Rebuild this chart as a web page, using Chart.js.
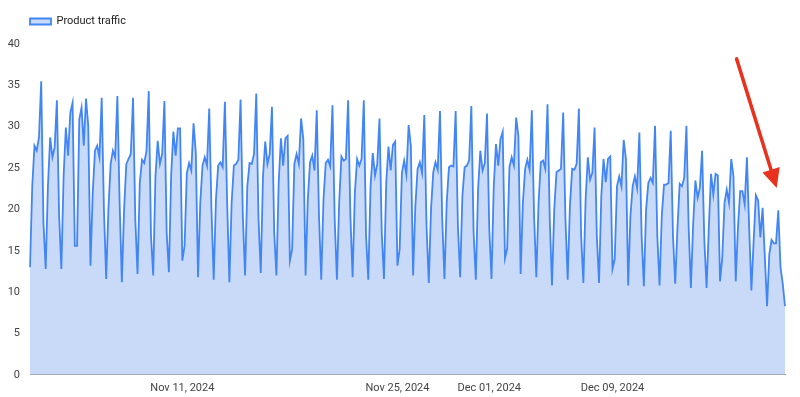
<!DOCTYPE html>
<html>
<head>
<meta charset="utf-8">
<script src="https://cdn.jsdelivr.net/npm/chart.js@4.4.1/dist/chart.umd.min.js"></script>
<style>
html,body{margin:0;padding:0;background:#fff;}
#wrap{width:800px;height:397px;position:relative;}
</style>
</head>
<body>
<div id="wrap"><canvas id="c" width="800" height="397"></canvas></div>
<script>
const seriesName = "Product traffic";

// Traffic values (about 7 readings per day, Nov 1 – Dec 19, 2024)
const week1 = [
  13.0, 22.8, 27.7, 27.1, 28.7, 35.5, 18.4,
  12.8, 22.8, 28.7, 26.3, 27.5, 33.2, 19.2,
  12.8, 24.0, 29.9, 26.5, 31.7, 32.9, 15.6,
  15.6, 30.9, 32.3, 27.7, 33.4, 30.1,
  13.2, 22.0, 27.1, 27.7, 26.3, 33.5, 20.0,
  11.6, 20.0, 25.5, 27.1, 26.3, 33.7, 20.8,
  11.2, 20.0, 25.5, 26.1, 26.7, 33.5, 18.8
];
const week2 = [
  12.2, 23.2, 26.0, 25.6, 27.1, 34.3, 16.8,
  12.0, 24.0, 28.3, 25.5, 26.7, 33.1, 17.2,
  12.4, 24.1, 29.4, 26.5, 29.8, 29.8, 13.8,
  15.6, 24.4, 25.6, 24.7, 30.4, 26.9,
  11.8, 20.8, 25.3, 26.3, 25.3, 32.2, 20.0,
  11.5, 21.2, 25.3, 25.7, 25.1, 33.0, 20.8,
  11.2, 20.8, 25.3, 25.5, 26.0, 33.3, 19.2
];
const week3 = [
  12.0, 22.8, 25.6, 25.5, 26.7, 34.0, 18.8,
  12.3, 24.0, 28.2, 25.5, 26.7, 32.4, 17.2,
  12.0, 23.2, 28.6, 25.3, 28.6, 28.9, 13.8,
  15.2, 25.5, 26.7, 25.5, 31.0, 28.5,
  12.0, 21.2, 25.7, 26.5, 24.7, 32.0, 19.2,
  11.5, 21.2, 25.6, 26.0, 25.2, 32.6, 18.8,
  11.5, 20.8, 26.4, 25.9, 26.1, 33.2, 19.2
];
const week4 = [
  11.8, 22.0, 26.1, 25.3, 26.1, 33.2, 16.8,
  11.5, 22.8, 26.8, 24.1, 25.5, 31.0, 17.2,
  11.6, 23.2, 27.6, 24.7, 27.8, 28.2, 13.2,
  15.2, 24.4, 25.9, 24.2, 30.2, 27.7,
  12.0, 20.4, 24.9, 25.7, 24.4, 31.4, 18.0,
  11.1, 20.0, 24.5, 25.7, 24.8, 31.9, 18.8,
  11.6, 20.8, 25.1, 25.3, 25.2, 31.9, 18.0
];
const week5 = [
  11.8, 21.6, 25.1, 25.3, 25.9, 32.5, 17.2,
  11.5, 22.4, 27.1, 24.7, 25.6, 31.6, 17.6,
  11.6, 22.8, 27.9, 25.3, 28.5, 29.4, 14.1,
  15.3, 25.1, 26.3, 25.3, 31.1, 28.9,
  12.2, 20.8, 24.9, 26.0, 24.8, 32.0, 19.2,
  11.8, 20.8, 25.7, 25.9, 24.9, 32.7, 18.8,
  10.8, 20.0, 24.5, 24.7, 24.9, 31.7, 18.8
];
const week6 = [
  11.5, 20.4, 24.9, 24.8, 25.5, 32.2, 16.8,
  11.1, 21.2, 26.3, 23.6, 24.4, 29.9, 16.8,
  11.1, 21.6, 26.1, 23.3, 26.1, 26.4, 12.8,
  14.0, 22.8, 24.0, 22.8, 28.4, 26.1,
  10.8, 19.2, 22.8, 24.0, 22.6, 29.3, 16.8,
  10.7, 20.0, 23.2, 23.8, 23.2, 30.1, 16.8,
  10.8, 19.2, 23.0, 23.0, 23.2, 29.5, 16.8
];
const week7 = [
  11.0, 17.8, 23.1, 22.8, 23.8, 30.1, 17.8,
  10.5, 18.2, 23.5, 21.4, 22.6, 27.1, 16.2,
  10.5, 17.8, 24.3, 21.8, 24.3, 24.1, 11.3,
  14.2, 20.8, 22.4, 20.8, 26.1, 24.0,
  11.3, 17.8, 22.2, 22.2, 20.6, 26.3, 17.8,
  10.2, 16.2, 21.7, 21.1, 16.6, 20.2, 14.2,
  8.3, 14.6, 16.3, 15.9, 15.9, 19.9, 13.0, 11.0, 8.3
];
const traffic = [].concat(week1, week2, week3, week4, week5, week6, week7);
const categories = traffic.map((_, i) => i);

// X-axis tick labels and the reading they sit under
const tickIndices = [68, 164, 205, 260];
const tickLabels = ["Nov 11, 2024", "Nov 25, 2024", "Dec 01, 2024", "Dec 09, 2024"];

// Red annotation arrow, in data coordinates (reading index, value)
const arrowFrom = { index: 315.4, value: 38.2 };
const arrowTo = { index: 333.3, value: 22.6 };

const legendSpacing = {
  id: 'legendSpacing',
  beforeInit(chart) {
    const legend = chart.legend;
    if (!legend) return;
    const orig = legend.fit;
    legend.fit = function () { orig.call(this); this.height += 7; };
  },
  afterLayout(chart) {
    const legend = chart.legend;
    if (!legend) return;
    legend.left += 16;
    legend.right += 16;
  }
};

const arrowPlugin = {
  id: 'arrowPlugin',
  afterDraw(chart) {
    const { ctx, scales: { x, y } } = chart;
    const x1 = x.getPixelForValue(arrowFrom.index), y1 = y.getPixelForValue(arrowFrom.value);
    const x2 = x.getPixelForValue(arrowTo.index), y2 = y.getPixelForValue(arrowTo.value);
    const dx = x2 - x1, dy = y2 - y1, len = Math.hypot(dx, dy);
    const ux = dx / len, uy = dy / len;
    const headLen = 19, headHalf = 9;
    const bx = x2 - ux * headLen, by = y2 - uy * headLen;
    ctx.save();
    ctx.strokeStyle = '#e8321e';
    ctx.fillStyle = '#e8321e';
    ctx.lineWidth = 3.5;
    ctx.lineCap = 'round';
    ctx.beginPath();
    ctx.moveTo(x1, y1);
    ctx.lineTo(bx + ux * 2, by + uy * 2);
    ctx.stroke();
    ctx.beginPath();
    ctx.moveTo(x2, y2);
    ctx.lineTo(bx - uy * headHalf, by + ux * headHalf);
    ctx.lineTo(bx + uy * headHalf, by - ux * headHalf);
    ctx.closePath();
    ctx.fill();
    ctx.restore();
  }
};

const font = { family: 'Roboto', size: 11 };

new Chart(document.getElementById('c'), {
  type: 'line',
  data: {
    labels: categories,
    datasets: [{
      label: seriesName,
      data: traffic,
      borderColor: '#4285f4',
      backgroundColor: '#c9daf8',
      borderWidth: 1.8,
      fill: 'origin',
      pointRadius: 0,
      tension: 0
    }]
  },
  options: {
    responsive: false,
    animation: false,
    devicePixelRatio: 1,
    layout: { padding: { left: 0, right: 15, top: 2, bottom: -5 } },
    plugins: {
      legend: {
        display: true,
        position: 'top',
        align: 'start',
        labels: { boxWidth: 21, boxHeight: 6, padding: 14, color: '#222', font: font }
      },
      tooltip: { enabled: false }
    },
    scales: {
      x: {
        grid: { display: false, drawTicks: false, tickLength: 0 },
        border: { display: true, color: '#8a8a8a', width: 1 },
        ticks: {
          autoSkip: false, maxRotation: 0, minRotation: 0, padding: 7,
          color: '#444', font: font,
          callback: (v, i) => { const k = tickIndices.indexOf(i); return k >= 0 ? tickLabels[k] : null; }
        }
      },
      y: {
        min: 0, max: 40,
        grid: { display: false, drawTicks: false, tickLength: 0 },
        border: { display: false },
        ticks: { stepSize: 5, padding: 10, color: '#444', font: font },
        afterFit(s) { s.width = 30; }
      }
    }
  },
  plugins: [legendSpacing, arrowPlugin]
});
</script>
</body>
</html>
